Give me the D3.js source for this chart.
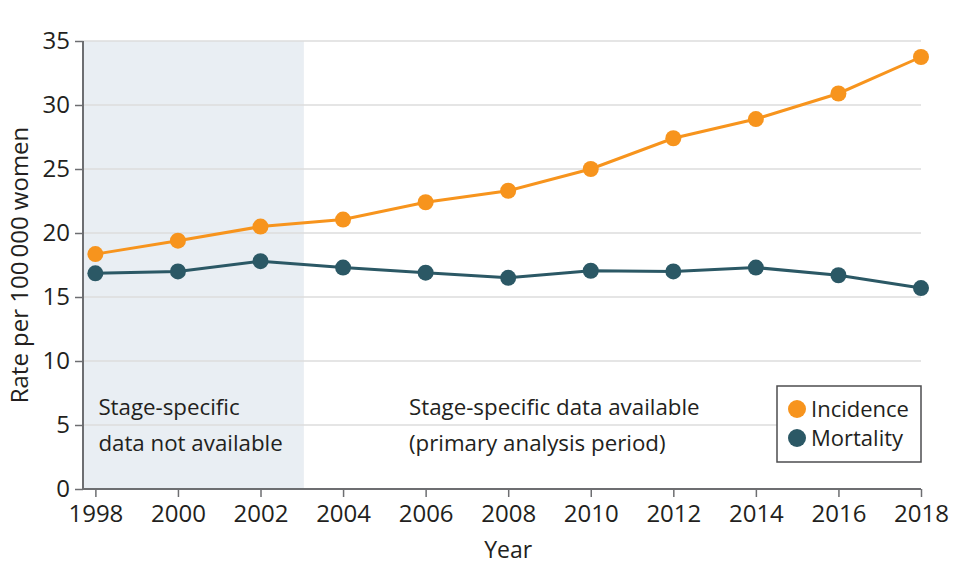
<!DOCTYPE html>
<html><head><meta charset="utf-8">
<script src="https://cdn.jsdelivr.net/npm/d3@7"></script>
<style>
body{margin:0;background:#fff;}
svg text{font-family:"Open Sans",sans-serif;fill:#231f20;}
</style></head>
<body><svg id="c" width="958" height="586"></svg>
<script>
const years = [1998,2000,2002,2004,2006,2008,2010,2012,2014,2016,2018];
const incidence = [18.35,19.4,20.5,21.05,22.4,23.3,25.0,27.4,28.9,30.9,33.75];
const mortality = [16.85,17.0,17.8,17.3,16.9,16.5,17.05,17.0,17.3,16.7,15.7];
const yTicks = [0,5,10,15,20,25,30,35];
const seriesNames = ["Incidence","Mortality"];
const seriesColors = ["#f7941d","#2b5865"];
const shadeRange = [1997.7, 2003.05];
const annotLeft = ["Stage-specific","data not available"];
const annotRight = ["Stage-specific data available","(primary analysis period)"];

const svg = d3.select("#c");
const m = {left:83, right:37, top:41, bottom:97};
const W = 958, H = 586;
const x = d3.scaleLinear().domain([1997.7, 2018]).range([m.left, W - m.right]);
const y = d3.scaleLinear().domain([0, 35]).range([H - m.bottom, m.top]);

// shade
svg.append("rect").attr("x", x(shadeRange[0])).attr("y", y(35))
  .attr("width", x(shadeRange[1]) - x(shadeRange[0])).attr("height", y(0) - y(35))
  .attr("fill", "#e9eef3");

// gridlines
svg.append("g").selectAll("line").data(yTicks.filter(d=>d>0)).join("line")
  .attr("x1", x(1997.7)).attr("x2", x(2018)).attr("y1", d=>y(d)).attr("y2", d=>y(d))
  .attr("stroke", "#dcdcdc").attr("stroke-width", 1.5);

// annotations
const aL = svg.append("text").attr("x", x(1998)+3).attr("y", 415).style("font-size","22.3px");
annotLeft.forEach((t,i)=>aL.append("tspan").attr("x", x(1998)+3).attr("dy", i?36:0).text(t));
const aR = svg.append("text").attr("x", 409).attr("y", 415).style("font-size","22.3px");
annotRight.forEach((t,i)=>aR.append("tspan").attr("x", 409).attr("dy", i?36:0).text(t));

// axes
const xAxis = svg.append("g").attr("transform", `translate(0,${y(0)})`)
  .call(d3.axisBottom(x).tickValues(d3.range(1998,2019,2)).tickFormat(d3.format("d")).tickSize(8).tickPadding(8));
const yAxis = svg.append("g").attr("transform", `translate(${m.left},0)`)
  .call(d3.axisLeft(y).tickValues(yTicks).tickSize(8).tickPadding(5));
[xAxis,yAxis].forEach(g=>{
  g.select(".domain").attr("stroke","#6d6e71").attr("stroke-width",2);
  g.selectAll(".tick line").attr("stroke","#6d6e71").attr("stroke-width",1.5);
  g.selectAll(".tick text").style("font-size","24px").style("font-family","'Open Sans',sans-serif").attr("fill","#231f20");
});
xAxis.select(".domain").attr("d", `M${m.left},0H${x(2018)}`);
yAxis.select(".domain").attr("d", `M0,${y(0)}V${y(35)}`);

// lines
const line = d3.line().x((d,i)=>x(years[i])).y(d=>y(d));
[incidence, mortality].forEach((s,k)=>{
  svg.append("path").datum(s).attr("d", line).attr("fill","none")
    .attr("stroke", seriesColors[k]).attr("stroke-width",3);
  svg.append("g").selectAll("circle").data(s).join("circle")
    .attr("cx",(d,i)=>x(years[i])).attr("cy",d=>y(d)).attr("r",8).attr("fill",seriesColors[k]);
});

// axis titles
svg.append("text").attr("x", x(2008)).attr("y", 558).attr("text-anchor","middle")
  .style("font-size","23px").text("Year");
svg.append("text").attr("transform", `translate(28,${(y(0)+y(35))/2}) rotate(-90)`)
  .attr("text-anchor","middle").style("font-size","24px").text("Rate per 100\u2009000 women");

// legend
const lg = svg.append("g");
lg.append("rect").attr("x",777).attr("y",386).attr("width",144).attr("height",76)
  .attr("fill","#fff").attr("stroke","#4d4d4f").attr("stroke-width",1.5);
seriesNames.forEach((n,i)=>{
  lg.append("circle").attr("cx",797).attr("cy",409+i*29).attr("r",9).attr("fill",seriesColors[i]);
  lg.append("text").attr("x",811).attr("y",409+i*29+8).style("font-size","22px").text(n);
});
</script></body></html>
